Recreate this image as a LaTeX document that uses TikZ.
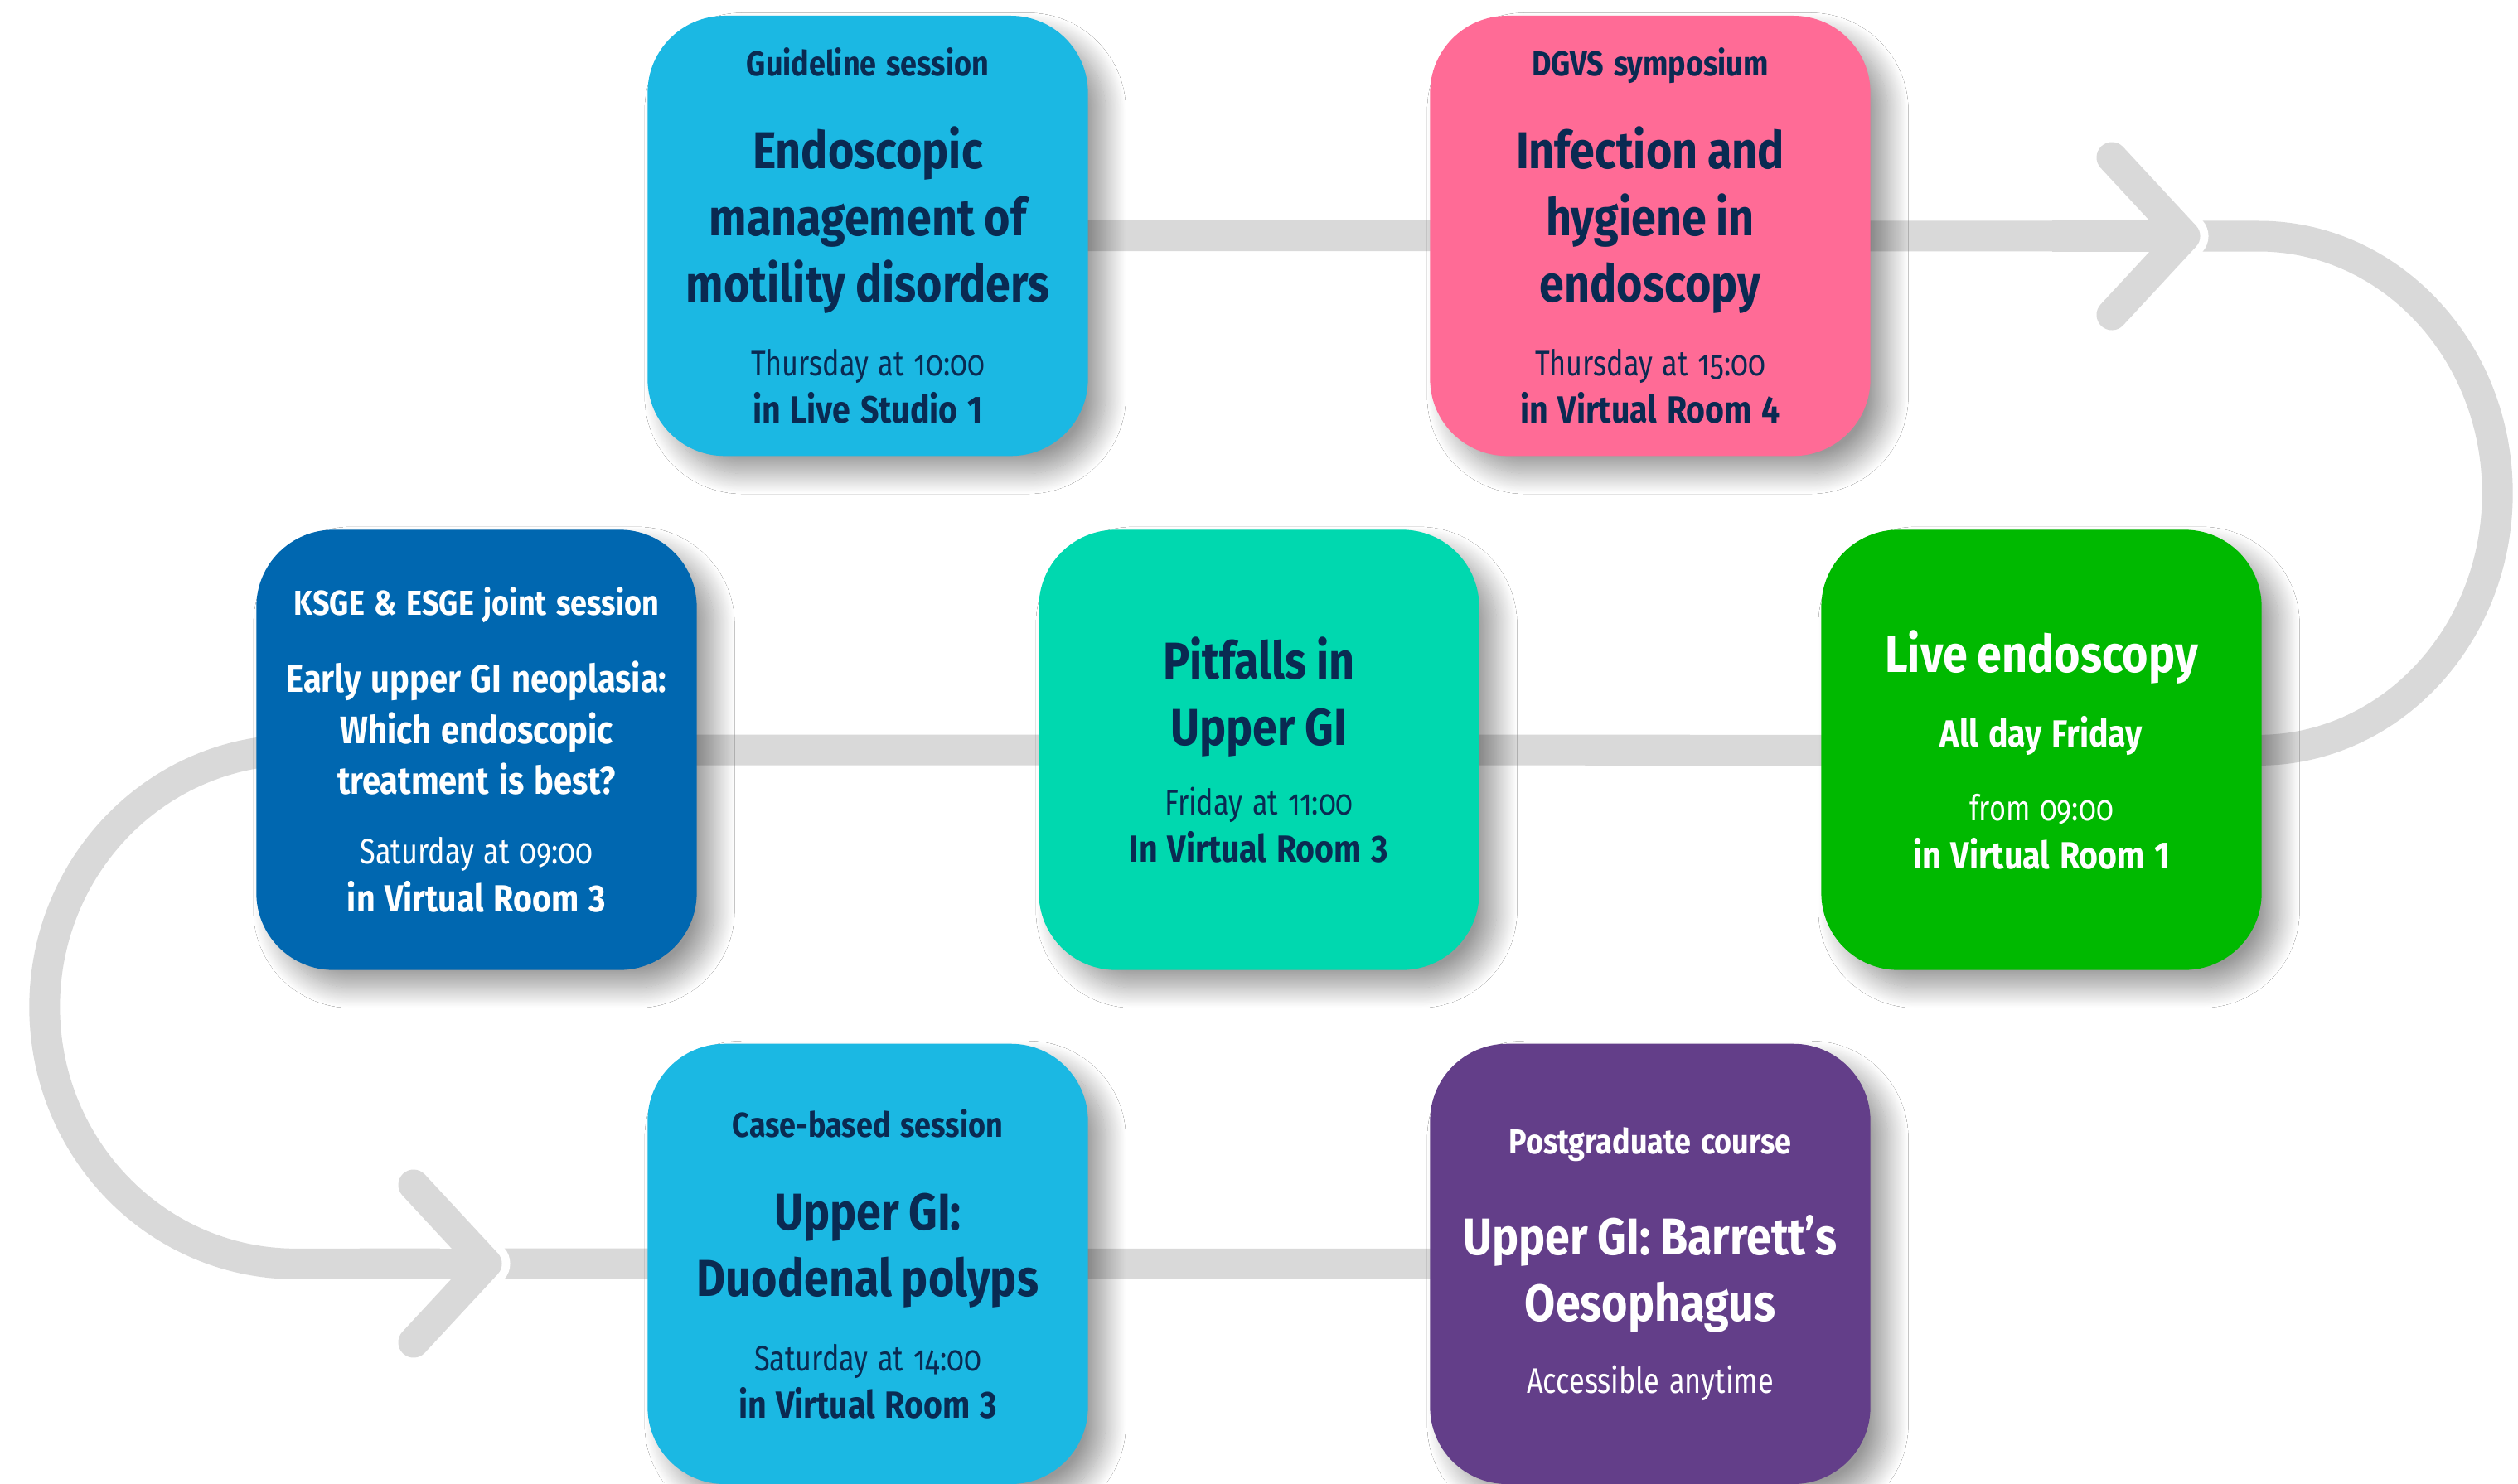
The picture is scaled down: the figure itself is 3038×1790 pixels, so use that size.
\documentclass[tikz,border=0pt]{standalone}
\usepackage{fontspec}
\setmainfont[FakeStretch=0.86]{Fira Sans}
\newfontfamily\timefont[FakeStretch=0.8,Numbers=OldStyle]{Fira Sans}
\usetikzlibrary{positioning}
\usetikzlibrary{backgrounds}
\usetikzlibrary{shadows.blur}

\definecolor{cyanbox}{HTML}{1BB8E3}
\definecolor{pinkbox}{HTML}{FF6B96}
\definecolor{bluebox}{HTML}{0067B0}
\definecolor{tealbox}{HTML}{00D8AF}
\definecolor{greenbox}{HTML}{00B900}
\definecolor{purplebox}{HTML}{633E89}
\definecolor{navytext}{HTML}{0A2A52}
\definecolor{trackgray}{HTML}{D9D9D9}

\newcommand{\sesshead}[1]{{\fontsize{11.9}{13}\selectfont\bfseries #1\par}}
\newcommand{\sesstitle}[1]{{\fontsize{17.8}{22.8}\selectfont\bfseries #1\par}}
\newcommand{\sesstitlesm}[1]{{\fontsize{13.2}{17.4}\selectfont\bfseries #1\par}}
\newcommand{\sesstime}[1]{{\timefont\fontsize{12.2}{16.4}\selectfont #1\par}}
\newcommand{\sessroom}[1]{{\fontsize{13}{16.4}\selectfont\bfseries #1\par}}

\begin{document}
\begin{tikzpicture}[x=0.01cm,y=0.01cm,on grid,node distance=6.2cm and 4.7175cm,
					track/.style={draw=trackgray,line width=0.37cm},
					gap/.style={draw=white,line width=0.57cm,line cap=round,line join=round}]
					\tikzstyle{session}=[rectangle,rounded corners=0.93cm,minimum width=5.31cm,
					minimum height=5.31cm,text width=5.1cm,align=center,inner sep=0pt,text=navytext,
					blur shadow={shadow xshift=6pt,shadow yshift=-6pt,shadow blur radius=7pt,shadow blur steps=30,shadow opacity=40}]
					
					\useasboundingbox (0,0) rectangle (3038,-1790);
					
					\node[session,fill=tealbox]   (D) at (1519,-905) {\sesstitle{Pitfalls in\\Upper GI}\vspace{7.5pt}\sesstime{Friday at 11:00}\sessroom{In Virtual Room 3}};
					\node[session,fill=bluebox,text=white] (C) [left=9.435cm of D] {\sesshead{KSGE \& ESGE joint session}\vspace{9.1pt}\sesstitlesm{Early upper GI neoplasia:\\Which endoscopic\\treatment is best?}\vspace{7.6pt}\sesstime{Saturday at 09:00}\sessroom{in Virtual Room 3}};
					\node[session,fill=greenbox,text=white] (E) [right=9.435cm of D] {\sesstitle{Live endoscopy}\vspace{9.2pt}\sessroom{All day Friday}\vspace{8.9pt}\sesstime{from 09:00}\sessroom{in Virtual Room 1}};
					\node[session,fill=cyanbox]   (A) [above left=of D] {\sesshead{Guideline session}\vspace{9.2pt}\sesstitle{Endoscopic\\management of\\motility disorders}\vspace{8.9pt}\sesstime{Thursday at 10:00}\sessroom{in Live Studio 1}};
					\node[session,fill=pinkbox]   (B) [above right=of D] {\sesshead{DGVS symposium}\vspace{9.2pt}\sesstitle{Infection and\\hygiene in\\endoscopy}\vspace{8.9pt}\sesstime{Thursday at 15:00}\sessroom{in Virtual Room 4}};
					\node[session,fill=cyanbox]   (F) [below left=of D] {\sesshead{Case-based session}\vspace{9.2pt}\sesstitle{Upper GI:\\Duodenal polyps}\vspace{9pt}\sesstime{Saturday at 14:00}\sessroom{in Virtual Room 3}};
					\node[session,fill=purplebox,text=white] (G) [below right=of D] {\sesshead{Postgraduate course}\vspace{12pt}\sesstitle{Upper GI: Barrett’s\\Oesophagus}\vspace{8.1pt}\sesstime{Accessible anytime}};
					
					\coordinate (tipR) at (2636,-285);
					\coordinate (arcR) at (2725,-285);
					\coordinate (arcL) at (357,-905);
					\coordinate (tipL) at (587,-1525);
					
					\begin{pgfonlayer}{background}
					\fill[white] (0,0) rectangle (3038,-1790);
					\path[track] (A.center) -- (B.center) -- (tipR) -- (arcR)
					arc[start angle=90,end angle=-90,x radius=2.88cm,y radius=3.1cm] -- (C.center) -- (arcL)
					arc[start angle=90,end angle=270,x radius=3.03cm,y radius=3.1cm] -- (tipL) -- (F.center) -- (G.center);
					% arrow heads on the track
					\foreach \t in {tipR,tipL} {
						\path[gap] ([shift={(-88,95)}]\t) -- (\t) -- ([shift={(-88,-95)}]\t);
						\path[track,line cap=round,line join=round] ([shift={(-88,95)}]\t) -- (\t) -- ([shift={(-88,-95)}]\t);
						\path[track] ([shift={(-160,0)}]\t) -- (\t);
					}
					\end{pgfonlayer}
\end{tikzpicture}
\end{document}
